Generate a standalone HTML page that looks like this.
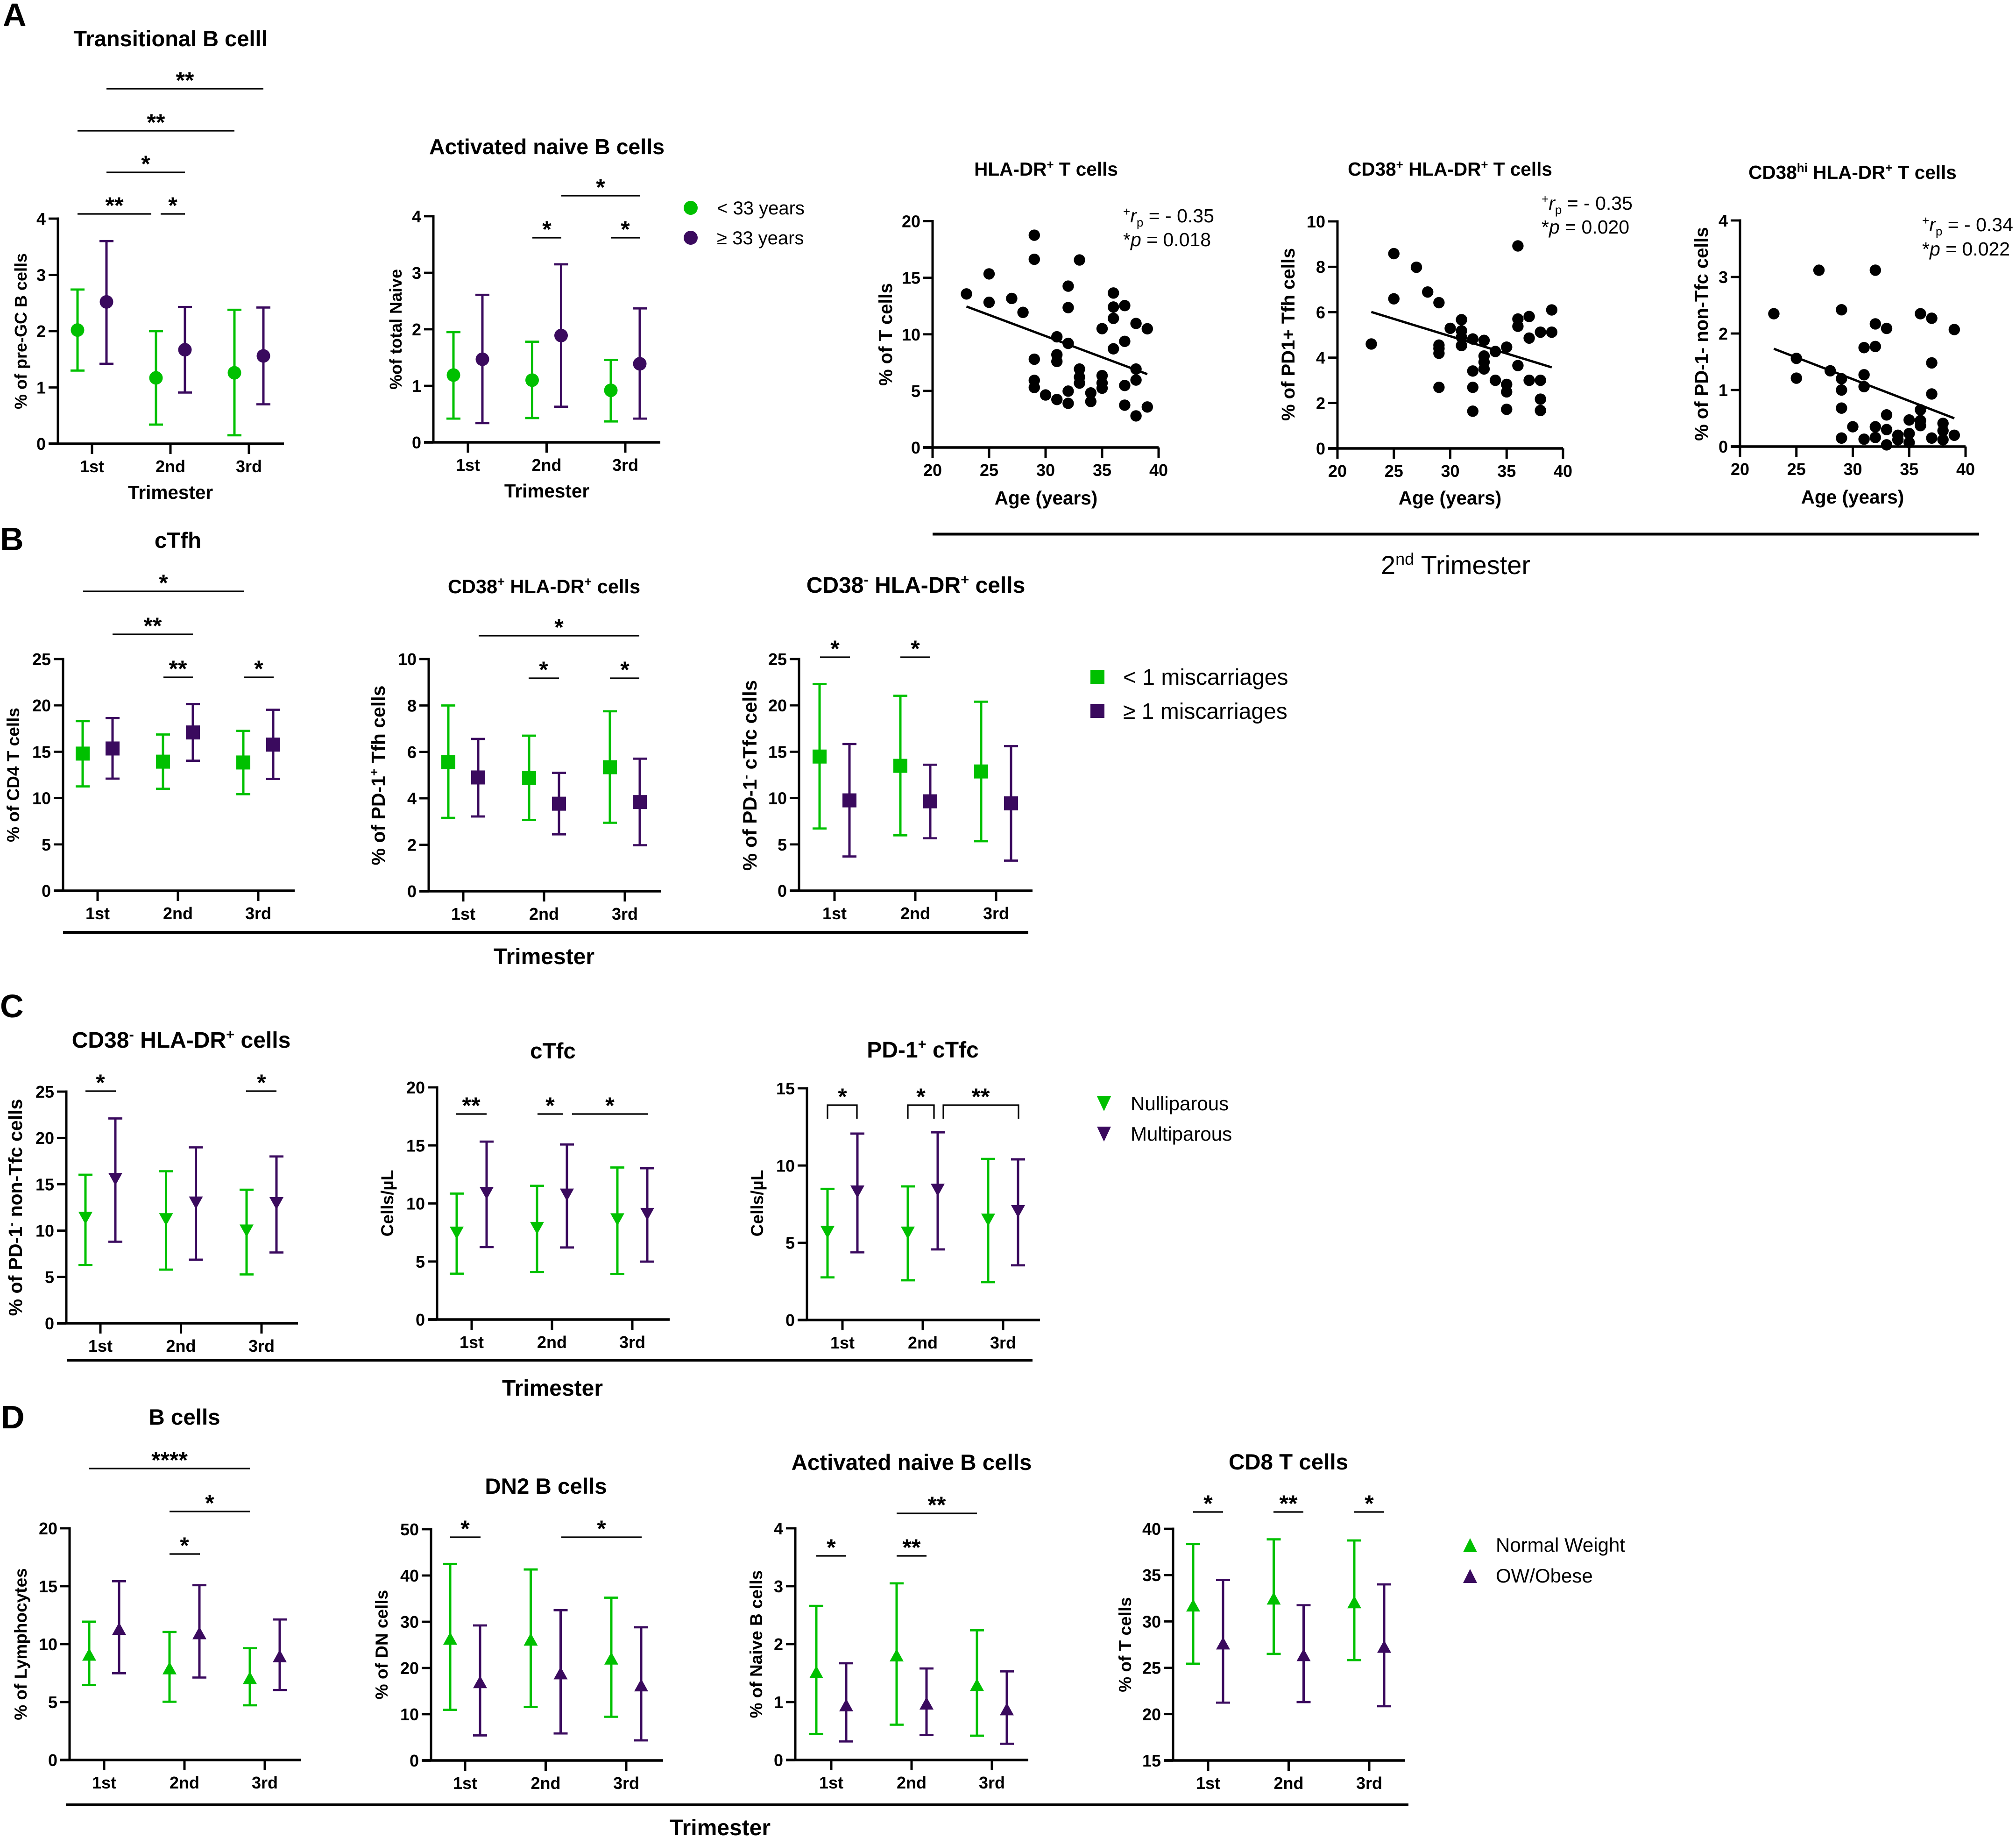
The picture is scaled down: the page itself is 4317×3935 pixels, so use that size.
<!DOCTYPE html>
<html lang="en">
<head>
<meta charset="utf-8">
<title>Immune cell subsets across trimesters</title>
<style>
html,body{margin:0;padding:0;background:#fff}
svg{display:block}
text{font-family:"Liberation Sans",Arial,sans-serif;fill:#000}
.b{font-weight:700}
.t46{font-size:47.5px;font-weight:700;text-anchor:middle}
.t48{font-size:48px;font-weight:700;text-anchor:middle}
.t42{font-size:41.5px;font-weight:700;text-anchor:middle}
.t40{font-size:40.5px;font-weight:700;text-anchor:middle}
.ax{font-size:40.5px;font-weight:700;text-anchor:middle}
.ax42{font-size:40.5px;font-weight:700;text-anchor:middle}
.ax47{font-size:48px;font-weight:700;text-anchor:middle}
.yl{font-weight:700;text-anchor:middle}
.let{font-size:70px;font-weight:700}
.leg40{font-size:40px}
.leg42{font-size:42px}
.leg48{font-size:48px}
.ann{font-size:41px}
.star{font-size:50px;font-weight:700;text-anchor:middle}
.sb{stroke:#000;stroke-width:3.2;fill:none}
.rule{stroke:#000;stroke-width:6}
</style>
</head>
<body>
<svg id="figure" xmlns="http://www.w3.org/2000/svg" width="4317" height="3935" viewBox="0 0 4317 3935">
<rect width="4317" height="3935" fill="#fff"/>

<text class="let" x="6" y="56">A</text>
<text class="let" x="0" y="1178">B</text>
<text class="let" x="0" y="2178">C</text>
<text class="let" x="2" y="3058">D</text>

<!-- chart titles -->
<text class="t46" style="font-size:47px" x="365" y="99">Transitional B celll</text>
<text class="t46" style="font-size:46.5px" x="1171" y="330">Activated naive B cells</text>
<text class="t40" x="2240" y="376">HLA-DR<tspan dy="-15" font-size="26">+</tspan><tspan dy="15"> T cells</tspan></text>
<text class="t40" x="3105" y="376">CD38<tspan dy="-15" font-size="26">+</tspan><tspan dy="15"> HLA-DR</tspan><tspan dy="-15" font-size="26">+</tspan><tspan dy="15"> T cells</tspan></text>
<text class="t40" x="3967" y="383">CD38<tspan dy="-15" font-size="26">hi</tspan><tspan dy="15"> HLA-DR</tspan><tspan dy="-15" font-size="26">+</tspan><tspan dy="15"> T cells</tspan></text>
<text class="t46" x="381" y="1173">cTfh</text>
<text class="t42" x="1165" y="1270">CD38<tspan dy="-16" font-size="27">+</tspan><tspan dy="16"> HLA-DR</tspan><tspan dy="-16" font-size="27">+</tspan><tspan dy="16"> cells</tspan></text>
<text class="t48" x="1961" y="1269">CD38<tspan dy="-18" font-size="31">-</tspan><tspan dy="18"> HLA-DR</tspan><tspan dy="-18" font-size="31">+</tspan><tspan dy="18"> cells</tspan></text>
<text class="t48" x="388" y="2243">CD38<tspan dy="-18" font-size="31">-</tspan><tspan dy="18"> HLA-DR</tspan><tspan dy="-18" font-size="31">+</tspan><tspan dy="18"> cells</tspan></text>
<text class="t46" x="1184" y="2266">cTfc</text>
<text class="t48" x="1976" y="2264">PD-1<tspan dy="-18" font-size="31">+</tspan><tspan dy="18"> cTfc</tspan></text>
<text class="t46" x="395" y="3050">B cells</text>
<text class="t46" x="1169" y="3198">DN2 B cells</text>
<text class="t46" x="1952" y="3147">Activated naive B cells</text>
<text class="t46" x="2759" y="3146">CD8 T cells</text>

<!-- y axis titles -->
<text class="yl" font-size="36" transform="translate(57,709) rotate(-90)">% of pre-GC B cells</text>
<text class="yl" font-size="36" transform="translate(860,705) rotate(-90)">%of total Naive</text>
<text class="yl" font-size="40" transform="translate(1910,716) rotate(-90)">% of T cells</text>
<text class="yl" font-size="40" transform="translate(2772,716) rotate(-90)">% of PD1+ Tfh cells</text>
<text class="yl" font-size="40" transform="translate(3657,715) rotate(-90)">% of PD-1- non-Tfc cells</text>
<text class="yl" font-size="37" transform="translate(41,1659) rotate(-90)">% of CD4 T cells</text>
<text class="yl" font-size="41" transform="translate(824,1660) rotate(-90)">% of PD-1<tspan dy="-14" font-size="27">+</tspan><tspan dy="14"> Tfh cells</tspan></text>
<text class="yl" font-size="42" transform="translate(1620,1660) rotate(-90)">% of PD-1<tspan dy="-14" font-size="27">-</tspan><tspan dy="14"> cTfc cells</tspan></text>
<text class="yl" font-size="41" transform="translate(47,2585) rotate(-90)">% of PD-1<tspan dy="-14" font-size="27">-</tspan><tspan dy="14"> non-Tfc cells</tspan></text>
<text class="yl" font-size="37" transform="translate(842,2576) rotate(-90)">Cells/µL</text>
<text class="yl" font-size="37" transform="translate(1634,2576) rotate(-90)">Cells/µL</text>
<text class="yl" font-size="37" transform="translate(57,3520) rotate(-90)">% of Lymphocytes</text>
<text class="yl" font-size="37" transform="translate(830,3521) rotate(-90)">% of DN cells</text>
<text class="yl" font-size="37" transform="translate(1632,3520) rotate(-90)">% of Naive B cells</text>
<text class="yl" font-size="37" transform="translate(2422,3521) rotate(-90)">% of T cells</text>

<!-- x axis titles -->
<text class="ax" x="365" y="1068">Trimester</text>
<text class="ax" x="1171" y="1065">Trimester</text>
<text class="ax42" x="2240" y="1080">Age (years)</text>
<text class="ax42" x="3105" y="1080">Age (years)</text>
<text class="ax42" x="3967" y="1078">Age (years)</text>

<!-- group rules and captions -->
<line class="rule" x1="1997" x2="4238" y1="1143.5" y2="1143.5"/>
<text x="3117" y="1229" font-size="56" text-anchor="middle">2<tspan dy="-20" font-size="36">nd</tspan><tspan dy="20"> Trimester</tspan></text>
<line class="rule" x1="135" x2="2202" y1="1996" y2="1996"/>
<text class="ax47" x="1165" y="2064">Trimester</text>
<line class="rule" x1="144" x2="2211" y1="2912" y2="2912"/>
<text class="ax47" x="1183" y="2988">Trimester</text>
<line class="rule" x1="141" x2="3016" y1="3864" y2="3864"/>
<text class="ax47" x="1542" y="3929">Trimester</text>

<!-- scatter annotations -->
<text class="ann" x="2405" y="476"><tspan dy="-14" font-size="26">+</tspan><tspan dy="14" font-style="italic">r</tspan><tspan dy="9" font-size="26">p</tspan><tspan dy="-9"> = - 0.35</tspan></text>
<text class="ann" x="2405" y="527">*<tspan font-style="italic">p</tspan> = 0.018</text>
<text class="ann" x="3301" y="449"><tspan dy="-14" font-size="26">+</tspan><tspan dy="14" font-style="italic">r</tspan><tspan dy="9" font-size="26">p</tspan><tspan dy="-9"> = - 0.35</tspan></text>
<text class="ann" x="3301" y="500">*<tspan font-style="italic">p</tspan> = 0.020</text>
<text class="ann" x="4116" y="495"><tspan dy="-14" font-size="26">+</tspan><tspan dy="14" font-style="italic">r</tspan><tspan dy="9" font-size="26">p</tspan><tspan dy="-9"> = - 0.34</tspan></text>
<text class="ann" x="4116" y="547">*<tspan font-style="italic">p</tspan> = 0.022</text>

<!-- legends -->
<g>
<circle cx="1479" cy="445" r="15" fill="#00c000"/>
<text class="leg40" x="1535" y="459">&lt; 33 years</text>
<circle cx="1479" cy="509" r="15" fill="#3a0a5e"/>
<text class="leg40" x="1535" y="523">≥ 33 years</text>
</g>
<g>
<rect x="2335" y="1434" width="30" height="30" fill="#00c000"/>
<text class="leg48" x="2405" y="1466">&lt; 1 miscarriages</text>
<rect x="2335" y="1507" width="30" height="30" fill="#3a0a5e"/>
<text class="leg48" x="2405" y="1539">≥ 1 miscarriages</text>
</g>
<g>
<polygon points="2349,2347 2379,2347 2364,2379" fill="#00c000"/>
<text class="leg42" x="2421" y="2377">Nulliparous</text>
<polygon points="2349,2412 2379,2412 2364,2444" fill="#3a0a5e"/>
<text class="leg42" x="2421" y="2442">Multiparous</text>
</g>
<g>
<polygon points="3133,3323 3163,3323 3148,3293" fill="#00c000"/>
<text class="leg42" x="3203" y="3322">Normal Weight</text>
<polygon points="3133,3389 3163,3389 3148,3359" fill="#3a0a5e"/>
<text class="leg42" x="3203" y="3388">OW/Obese</text>
</g>

<!-- significance annotations -->
<g>
<line class="sb" x1="228" x2="564" y1="190" y2="190"/><text class="star" x="396" y="189">**</text>
<line class="sb" x1="166" x2="502" y1="280" y2="280"/><text class="star" x="334" y="279">**</text>
<line class="sb" x1="228" x2="396" y1="369" y2="369"/><text class="star" x="312" y="368">*</text>
<line class="sb" x1="166" x2="324" y1="458" y2="458"/><text class="star" x="245" y="457">**</text>
<line class="sb" x1="344" x2="396" y1="458" y2="458"/><text class="star" x="370" y="457">*</text>
<line class="sb" x1="1202" x2="1370" y1="419" y2="419"/><text class="star" x="1286" y="418">*</text>
<line class="sb" x1="1140" x2="1202" y1="509" y2="509"/><text class="star" x="1171" y="508">*</text>
<line class="sb" x1="1308" x2="1370" y1="509" y2="509"/><text class="star" x="1339" y="508">*</text>
</g>
<g>
<line class="sb" x1="178" x2="522" y1="1266" y2="1266"/><text class="star" x="350" y="1265">*</text>
<line class="sb" x1="241" x2="413" y1="1358" y2="1358"/><text class="star" x="327" y="1357">**</text>
<line class="sb" x1="350" x2="413" y1="1450" y2="1450"/><text class="star" x="381" y="1449">**</text>
<line class="sb" x1="522" x2="586" y1="1450" y2="1450"/><text class="star" x="554" y="1449">*</text>
<line class="sb" x1="1025" x2="1369" y1="1361" y2="1361"/><text class="star" x="1197" y="1360">*</text>
<line class="sb" x1="1132" x2="1197" y1="1452" y2="1452"/><text class="star" x="1164" y="1451">*</text>
<line class="sb" x1="1306" x2="1369" y1="1452" y2="1452"/><text class="star" x="1338" y="1451">*</text>
<line class="sb" x1="1756" x2="1820" y1="1407" y2="1407"/><text class="star" x="1788" y="1406">*</text>
<line class="sb" x1="1928" x2="1992" y1="1407" y2="1407"/><text class="star" x="1960" y="1406">*</text>
</g>
<g>
<line class="sb" x1="183" x2="248" y1="2336" y2="2336"/><text class="star" x="215" y="2335">*</text>
<line class="sb" x1="527" x2="592" y1="2336" y2="2336"/><text class="star" x="560" y="2335">*</text>
<line class="sb" x1="977" x2="1042" y1="2385" y2="2385"/><text class="star" x="1009" y="2384">**</text>
<line class="sb" x1="1151" x2="1206" y1="2385" y2="2385"/><text class="star" x="1178" y="2384">*</text>
<line class="sb" x1="1225" x2="1388" y1="2385" y2="2385"/><text class="star" x="1306" y="2384">*</text>
<path class="sb" d="M1772 2395V2366H1835V2395"/><text class="star" x="1804" y="2365">*</text>
<path class="sb" d="M1944 2395V2366H2000V2395"/><text class="star" x="1972" y="2365">*</text>
<path class="sb" d="M2020 2395V2366H2181V2395"/><text class="star" x="2100" y="2365">**</text>
</g>
<g>
<line class="sb" x1="191" x2="535" y1="3144" y2="3144"/><text class="star" x="363" y="3143">****</text>
<line class="sb" x1="363" x2="535" y1="3236" y2="3236"/><text class="star" x="449" y="3235">*</text>
<line class="sb" x1="363" x2="428" y1="3327" y2="3327"/><text class="star" x="395" y="3326">*</text>
<line class="sb" x1="964" x2="1029" y1="3291" y2="3291"/><text class="star" x="996" y="3290">*</text>
<line class="sb" x1="1202" x2="1374" y1="3291" y2="3291"/><text class="star" x="1288" y="3290">*</text>
<line class="sb" x1="1920" x2="2092" y1="3240" y2="3240"/><text class="star" x="2006" y="3239">**</text>
<line class="sb" x1="1748" x2="1812" y1="3331" y2="3331"/><text class="star" x="1780" y="3330">*</text>
<line class="sb" x1="1920" x2="1984" y1="3331" y2="3331"/><text class="star" x="1952" y="3330">**</text>
<line class="sb" x1="2555" x2="2619" y1="3237" y2="3237"/><text class="star" x="2587" y="3236">*</text>
<line class="sb" x1="2727" x2="2791" y1="3237" y2="3237"/><text class="star" x="2759" y="3236">**</text>
<line class="sb" x1="2900" x2="2964" y1="3237" y2="3237"/><text class="star" x="2932" y="3236">*</text>
</g>
<g id="charts"></g>
</svg>

<script>
// ---- shared categories ----
const trimesters = ['1st', '2nd', '3rd'];

// ---- tick labels ----
const ticksA1 = [0, 1, 2, 3, 4];
const ticksA2 = [0, 1, 2, 3, 4];
const ticksB1 = [0, 5, 10, 15, 20, 25];
const ticksB2 = [0, 2, 4, 6, 8, 10];
const ticksB3 = [0, 5, 10, 15, 20, 25];
const ticksC1 = [0, 5, 10, 15, 20, 25];
const ticksC2 = [0, 5, 10, 15, 20];
const ticksC3 = [0, 5, 10, 15];
const ticksD1 = [0, 5, 10, 15, 20];
const ticksD2 = [0, 10, 20, 30, 40, 50];
const ticksD3 = [0, 1, 2, 3, 4];
const ticksD4 = [15, 20, 25, 30, 35, 40];
const ticksAge = [20, 25, 30, 35, 40];
const ticksS1 = [0, 5, 10, 15, 20];
const ticksS2 = [0, 2, 4, 6, 8, 10];
const ticksS3 = [0, 1, 2, 3, 4];

// ---- A: transitional B cells ----
const a1GreenMean = [2.02, 1.17, 1.26];
const a1GreenLow = [1.30, 0.34, 0.15];
const a1GreenHigh = [2.74, 2.00, 2.38];
const a1PurpleMean = [2.52, 1.67, 1.56];
const a1PurpleLow = [1.42, 0.91, 0.70];
const a1PurpleHigh = [3.60, 2.43, 2.42];
// ---- A: activated naive B cells ----
const a2GreenMean = [1.19, 1.10, 0.92];
const a2GreenLow = [0.42, 0.43, 0.37];
const a2GreenHigh = [1.95, 1.78, 1.46];
const a2PurpleMean = [1.47, 1.89, 1.39];
const a2PurpleLow = [0.34, 0.63, 0.42];
const a2PurpleHigh = [2.61, 3.15, 2.37];
// ---- B: cTfh ----
const b1GreenMean = [14.8, 13.93, 13.84];
const b1GreenLow = [11.26, 11.0, 10.42];
const b1GreenHigh = [18.3, 16.86, 17.25];
const b1PurpleMean = [15.35, 17.08, 15.77];
const b1PurpleLow = [12.1, 14.03, 12.07];
const b1PurpleHigh = [18.63, 20.14, 19.53];
// ---- B: CD38+ HLA-DR+ ----
const b2GreenMean = [5.56, 4.88, 5.34];
const b2GreenLow = [3.16, 3.07, 2.95];
const b2GreenHigh = [8.0, 6.7, 7.75];
const b2PurpleMean = [4.9, 3.77, 3.84];
const b2PurpleLow = [3.22, 2.45, 1.98];
const b2PurpleHigh = [6.56, 5.1, 5.71];
// ---- B: CD38- HLA-DR+ ----
const b3GreenMean = [14.48, 13.48, 12.87];
const b3GreenLow = [6.72, 5.98, 5.34];
const b3GreenHigh = [22.3, 21.04, 20.4];
const b3PurpleMean = [9.75, 9.65, 9.43];
const b3PurpleLow = [3.7, 5.66, 3.25];
const b3PurpleHigh = [15.83, 13.6, 15.6];
// ---- C: CD38- HLA-DR+ ----
const c1GreenMean = [11.34, 11.2, 9.98];
const c1GreenLow = [6.28, 5.79, 5.27];
const c1GreenHigh = [16.03, 16.4, 14.41];
const c1PurpleMean = [15.54, 13.0, 12.93];
const c1PurpleLow = [8.8, 6.86, 7.64];
const c1PurpleHigh = [22.1, 18.98, 18.0];
// ---- C: cTfc ----
const c2GreenMean = [7.46, 7.87, 8.61];
const c2GreenLow = [3.95, 4.09, 3.93];
const c2GreenHigh = [10.85, 11.52, 13.1];
const c2PurpleMean = [10.88, 10.74, 9.08];
const c2PurpleLow = [6.24, 6.21, 4.99];
const c2PurpleHigh = [15.33, 15.08, 13.03];
// ---- C: PD-1+ cTfc ----
const c3GreenMean = [5.68, 5.64, 6.48];
const c3GreenLow = [2.76, 2.57, 2.45];
const c3GreenHigh = [8.49, 8.65, 10.43];
const c3PurpleMean = [8.3, 8.42, 7.03];
const c3PurpleLow = [4.38, 4.57, 3.54];
const c3PurpleHigh = [12.07, 12.15, 10.4];
// ---- D: B cells ----
const d1GreenMean = [9.12, 7.94, 7.1];
const d1GreenLow = [6.47, 5.03, 4.72];
const d1GreenHigh = [11.94, 11.05, 9.65];
const d1PurpleMean = [11.34, 10.97, 8.98];
const d1PurpleLow = [7.49, 7.12, 6.04];
const d1PurpleHigh = [15.43, 15.09, 12.13];
// ---- D: DN2 B cells ----
const d2GreenMean = [26.4, 26.2, 22.1];
const d2GreenLow = [10.96, 11.57, 9.46];
const d2GreenHigh = [42.5, 41.3, 35.2];
const d2PurpleMean = [17.0, 18.9, 16.3];
const d2PurpleLow = [5.42, 5.84, 4.34];
const d2PurpleHigh = [29.2, 32.5, 28.8];
// ---- D: activated naive B cells ----
const d3GreenMean = [1.52, 1.81, 1.3];
const d3GreenLow = [0.45, 0.61, 0.42];
const d3GreenHigh = [2.66, 3.05, 2.24];
const d3PurpleMean = [0.95, 0.98, 0.88];
const d3PurpleLow = [0.32, 0.43, 0.28];
const d3PurpleHigh = [1.67, 1.58, 1.53];
// ---- D: CD8 T cells ----
const d4GreenMean = [31.75, 32.5, 32.1];
const d4GreenLow = [25.44, 26.5, 25.83];
const d4GreenHigh = [38.35, 38.86, 38.74];
const d4PurpleMean = [27.66, 26.4, 27.3];
const d4PurpleLow = [21.24, 21.3, 20.85];
const d4PurpleHigh = [34.48, 31.75, 34.0];

// ---- scatter 1: HLA-DR+ T cells ----
const s1Age = [23,25,25,27,28,29,29,29,29,29,30,31,31,31,31,32,32,32,32,32,33,33,33,33,34,34,35,35,35,35,36,36,36,36,37,37,37,37,38,38,38,38,39,39];
const s1Value = [13.57,15.34,12.83,13.17,11.94,18.76,16.63,7.8,5.93,5.3,4.64,9.78,8.2,7.6,4.24,14.26,12.36,9.2,4.98,3.9,16.57,6.93,6.22,5.69,4.82,4.06,10.5,6.35,5.7,5.24,13.65,12.41,11.41,8.72,12.54,9.38,5.48,3.74,10.96,6.93,5.96,2.79,10.49,3.58];
const s1TrendAge = [23, 39];
const s1TrendValue = [12.46, 6.48];
// ---- scatter 2: CD38+ HLA-DR+ T cells ----
const s2Age = [23,25,25,27,28,29,29,29,29,29,30,31,31,31,31,32,32,32,32,33,33,33,33,34,34,35,35,35,35,36,36,36,36,37,37,37,38,38,38,38,39,39];
const s2Value = [4.6,8.58,6.59,7.98,6.89,6.42,4.55,4.4,4.19,2.69,5.29,5.67,5.18,4.9,4.53,4.82,3.41,2.69,1.64,4.76,4.07,3.8,3.5,4.27,3.0,4.46,2.82,2.49,1.72,8.92,5.7,5.38,3.65,5.81,4.86,3.0,5.12,3.0,2.17,1.67,6.1,5.12];
const s2TrendAge = [23, 39];
const s2TrendValue = [6.01, 3.57];
// ---- scatter 3: CD38hi HLA-DR+ T cells ----
const s3Age = [23,25,25,27,28,29,29,29,29,29,30,31,31,31,31,32,32,32,32,32,33,33,33,33,34,34,35,35,35,36,36,36,36,37,37,37,37,38,38,38,39,39];
const s3Value = [2.35,1.56,1.21,3.12,1.34,2.42,1.2,1.0,0.68,0.15,0.35,1.75,1.27,1.06,0.13,3.12,2.17,1.77,0.35,0.16,2.09,0.56,0.3,0.03,0.2,0.12,0.47,0.23,0.07,2.35,0.65,0.46,0.37,2.27,1.48,0.93,0.15,0.41,0.28,0.12,2.07,0.2];
const s3TrendAge = [23, 39];
const s3TrendValue = [1.73, 0.5];

const GREEN = '#00c000';
const PURPLE = '#3a0a5e';
const SVGNS = 'http://www.w3.org/2000/svg';
const root = document.getElementById('charts');

function make(parent, tag, attrs, content) {
  const el = document.createElementNS(SVGNS, tag);
  for (const k in attrs) el.setAttribute(k, attrs[k]);
  if (content !== undefined) el.textContent = content;
  parent.appendChild(el);
  return el;
}

function linear(d0, d1, r0, r1) {
  return v => r0 + (v - d0) * (r1 - r0) / (d1 - d0);
}

function drawYAxis(g, L, ticks, y) {
  const axis = make(g, 'line', {x1: L.axisX, x2: L.axisX, y1: y(ticks[ticks.length - 1]) - 2.5, y2: L.y0, stroke: '#000', 'stroke-width': 5});
  
  
  ticks.forEach(t => {
    const tick = make(g, 'line', {x1: L.axisX - 20, x2: L.axisX, y1: y(t), y2: y(t), stroke: '#000', 'stroke-width': t === ticks[0] ? 5.5 : 4.7});
    
    
    const label = make(g, 'text', {x: L.axisX - 26, y: y(t) + 13, 'text-anchor': 'end', 'font-size': 36, 'font-weight': 700}, String(t));
    
    
  });
  const base = make(g, 'line', {x1: L.axisX - 20, x2: L.xEnd, y1: L.y0, y2: L.y0, stroke: '#000', 'stroke-width': 5.5});
  
  
}

function drawXTick(g, x, y0, text) {
  const tick = make(g, 'line', {x1: x, x2: x, y1: y0, y2: y0 + 22, stroke: '#000', 'stroke-width': 5});
  
  
  const label = make(g, 'text', {x: x, y: y0 + 61, 'text-anchor': 'middle', 'font-size': 36, 'font-weight': 700}, text);
  
  
}

function drawMarker(g, shape, x, y, color) {
  let m;
  if (shape === 'circle') {
    m = make(g, 'circle', {cx: x, cy: y, r: 14.5, fill: color});
  } else if (shape === 'square') {
    m = make(g, 'rect', {x: x - 15, y: y - 15, width: 30, height: 30, fill: color});
  } else if (shape === 'down') {
    m = make(g, 'polygon', {points: [x - 15, y - 13.5, x + 15, y - 13.5, x, y + 13.5].join(','), fill: color});
  } else {
    m = make(g, 'polygon', {points: [x - 15, y + 13.5, x + 15, y + 13.5, x, y - 13.5].join(','), fill: color});
  }
  
  
}

function drawSeries(g, name, x, y, mean, low, high, color, shape) {
  const group = make(g, 'g', {});
  
  
  mean.forEach((v, i) => {
    const cx = x(i);
    const bar = make(group, 'line', {x1: cx, x2: cx, y1: y(high[i]), y2: y(low[i]), stroke: color, 'stroke-width': 5});
    
    
    const capHigh = make(group, 'line', {x1: cx - 15, x2: cx + 15, y1: y(high[i]), y2: y(high[i]), stroke: color, 'stroke-width': 4.7});
    
    
    const capLow = make(group, 'line', {x1: cx - 15, x2: cx + 15, y1: y(low[i]), y2: y(low[i]), stroke: color, 'stroke-width': 4.7});
    
    
    drawMarker(group, shape, cx, y(v), color);
  });
}

function drawGroupChart(name, L, ticks, shape, gMean, gLow, gHigh, pMean, pLow, pHigh) {
  const g = make(root, 'g', {});
  
  
  const y = linear(ticks[0], ticks[ticks.length - 1], L.y0, L.y1);
  const cat = linear(0, trimesters.length - 1, L.first, L.last);
  drawYAxis(g, L, ticks, y);
  trimesters.forEach((t, i) => drawXTick(g, cat(i), L.y0, t));
  drawSeries(g, 'series-green', i => cat(i) - L.off, y, gMean, gLow, gHigh, GREEN, shape);
  drawSeries(g, 'series-purple', i => cat(i) + L.off, y, pMean, pLow, pHigh, PURPLE, shape);
}

function drawScatter(name, L, ticks, ages, values, trendAges, trendValues) {
  const g = make(root, 'g', {});
  
  
  const y = linear(ticks[0], ticks[ticks.length - 1], L.y0, L.y1);
  const x = linear(ticksAge[0], ticksAge[ticksAge.length - 1], L.axisX, L.xEnd);
  drawYAxis(g, L, ticks, y);
  ticksAge.forEach(t => drawXTick(g, x(t), L.y0, String(t)));
  ages.forEach((a, i) => {
    const dot = make(g, 'circle', {cx: x(a), cy: y(values[i]), r: 12.2, fill: '#000'});
    
    
  });
  const trend = make(g, 'line', {x1: x(trendAges[0]), x2: x(trendAges[1]), y1: y(trendValues[0]), y2: y(trendValues[1]), stroke: '#000', 'stroke-width': 5});
  
  
}

drawGroupChart('chart-transitional-b', {axisX: 124, xEnd: 608, y0: 950, y1: 468, first: 197, last: 533, off: 31}, ticksA1, 'circle', a1GreenMean, a1GreenLow, a1GreenHigh, a1PurpleMean, a1PurpleLow, a1PurpleHigh);
drawGroupChart('chart-activated-naive-a', {axisX: 928, xEnd: 1414, y0: 947, y1: 463, first: 1002, last: 1339, off: 31}, ticksA2, 'circle', a2GreenMean, a2GreenLow, a2GreenHigh, a2PurpleMean, a2PurpleLow, a2PurpleHigh);
drawGroupChart('chart-ctfh', {axisX: 135, xEnd: 631, y0: 1907, y1: 1411, first: 209, last: 553, off: 32}, ticksB1, 'square', b1GreenMean, b1GreenLow, b1GreenHigh, b1PurpleMean, b1PurpleLow, b1PurpleHigh);
drawGroupChart('chart-cd38pos-b', {axisX: 918, xEnd: 1415, y0: 1908, y1: 1411, first: 992, last: 1338, off: 32}, ticksB2, 'square', b2GreenMean, b2GreenLow, b2GreenHigh, b2PurpleMean, b2PurpleLow, b2PurpleHigh);
drawGroupChart('chart-cd38neg-b', {axisX: 1711, xEnd: 2211, y0: 1907, y1: 1411, first: 1787, last: 2133, off: 32}, ticksB3, 'square', b3GreenMean, b3GreenLow, b3GreenHigh, b3PurpleMean, b3PurpleLow, b3PurpleHigh);
drawGroupChart('chart-cd38neg-c', {axisX: 142, xEnd: 638, y0: 2833, y1: 2337, first: 215, last: 560, off: 32}, ticksC1, 'down', c1GreenMean, c1GreenLow, c1GreenHigh, c1PurpleMean, c1PurpleLow, c1PurpleHigh);
drawGroupChart('chart-ctfc', {axisX: 936, xEnd: 1434, y0: 2825, y1: 2328, first: 1010, last: 1354, off: 32}, ticksC2, 'down', c2GreenMean, c2GreenLow, c2GreenHigh, c2PurpleMean, c2PurpleLow, c2PurpleHigh);
drawGroupChart('chart-pd1-ctfc', {axisX: 1728, xEnd: 2227, y0: 2826, y1: 2330, first: 1804, last: 2148, off: 32}, ticksC3, 'down', c3GreenMean, c3GreenLow, c3GreenHigh, c3PurpleMean, c3PurpleLow, c3PurpleHigh);
drawGroupChart('chart-b-cells', {axisX: 149, xEnd: 645, y0: 3768, y1: 3272, first: 223, last: 567, off: 32}, ticksD1, 'up', d1GreenMean, d1GreenLow, d1GreenHigh, d1PurpleMean, d1PurpleLow, d1PurpleHigh);
drawGroupChart('chart-dn2-b', {axisX: 923, xEnd: 1420, y0: 3769, y1: 3274, first: 996, last: 1341, off: 32}, ticksD2, 'up', d2GreenMean, d2GreenLow, d2GreenHigh, d2PurpleMean, d2PurpleLow, d2PurpleHigh);
drawGroupChart('chart-activated-naive-d', {axisX: 1703, xEnd: 2202, y0: 3768, y1: 3272, first: 1780, last: 2124, off: 32}, ticksD3, 'up', d3GreenMean, d3GreenLow, d3GreenHigh, d3PurpleMean, d3PurpleLow, d3PurpleHigh);
drawGroupChart('chart-cd8-t', {axisX: 2512, xEnd: 3009, y0: 3769, y1: 3273, first: 2587, last: 2932, off: 32}, ticksD4, 'up', d4GreenMean, d4GreenLow, d4GreenHigh, d4PurpleMean, d4PurpleLow, d4PurpleHigh);

drawScatter('scatter-hla-dr-t', {axisX: 1997, xEnd: 2481, y0: 958, y1: 473.5}, ticksS1, s1Age, s1Value, s1TrendAge, s1TrendValue);
drawScatter('scatter-cd38-hla-dr-t', {axisX: 2864, xEnd: 3347, y0: 960, y1: 474}, ticksS2, s2Age, s2Value, s2TrendAge, s2TrendValue);
drawScatter('scatter-cd38hi-hla-dr-t', {axisX: 3726, xEnd: 4209, y0: 956, y1: 472}, ticksS3, s3Age, s3Value, s3TrendAge, s3TrendValue);
</script>
</body>
</html>
